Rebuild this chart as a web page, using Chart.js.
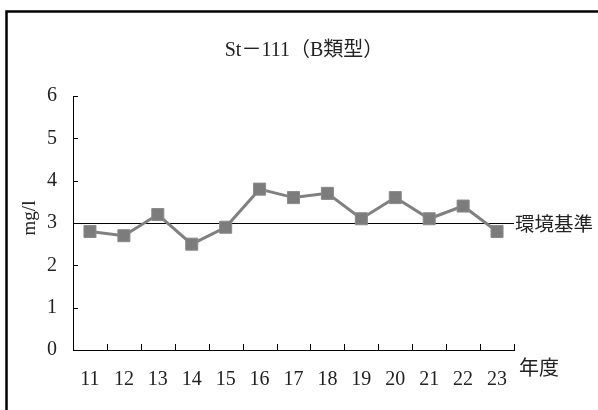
<!DOCTYPE html>
<html>
<head>
<meta charset="utf-8">
<script src="https://cdn.jsdelivr.net/npm/chart.js@4"></script>
<style>
  body { margin: 0; background: #fff; }
  #wrap { width: 598px; height: 410px; }
</style>
</head>
<body>
<div id="wrap"><canvas id="myChart" width="598" height="410"></canvas></div>
<script>
const years = ["11", "12", "13", "14", "15", "16", "17", "18", "19", "20", "21", "22", "23"];
const values = [2.8, 2.7, 3.2, 2.5, 2.9, 3.8, 3.6, 3.7, 3.1, 3.6, 3.1, 3.4, 2.8];
const standard = 3;
const yTicks = [0, 1, 2, 3, 4, 5, 6];

const serif = '"Liberation Serif", "Noto Sans CJK JP", serif';
const cjk = '"Noto Sans CJK JP", sans-serif';

// frame, title, standard line and inner tick marks
const extras = {
  id: "extras",
  beforeDatasetsDraw(chart) {
    const ctx = chart.ctx;
    const { left, right } = chart.chartArea;
    const y = chart.scales.y.getPixelForValue(standard);
    ctx.save();
    ctx.strokeStyle = "#000";
    ctx.lineWidth = 1;
    ctx.beginPath();
    ctx.moveTo(left, Math.round(y) + 0.5);
    ctx.lineTo(right, Math.round(y) + 0.5);
    ctx.stroke();
    ctx.restore();
  },
  afterDraw(chart) {
    const ctx = chart.ctx;
    const area = chart.chartArea;
    const xs = chart.scales.x;
    const ys = chart.scales.y;
    ctx.save();
    // outer frame
    ctx.strokeStyle = "#000";
    ctx.lineWidth = 2.5;
    ctx.strokeRect(6.5, 11.5, 640, 440);

    // ticks pointing inward
    ctx.lineWidth = 1;
    ctx.strokeStyle = "#000";
    ctx.beginPath();
    yTicks.forEach(v => {
      const py = Math.round(ys.getPixelForValue(v)) + 0.5;
      ctx.moveTo(area.left, py);
      ctx.lineTo(area.left + 5, py);
    });
    const step = xs.getPixelForValue(1) - xs.getPixelForValue(0);
    for (let i = 0; i < years.length; i++) {
      const px = Math.round(xs.getPixelForValue(i) + step / 2) + 0.5;
      ctx.moveTo(px, area.bottom);
      ctx.lineTo(px, area.bottom - 6);
    }
    ctx.stroke();

    // title
    ctx.fillStyle = "#222";
    ctx.font = "20px " + serif;
    ctx.textAlign = "center";
    ctx.textBaseline = "middle";
    ctx.fillText("St－111（B類型）", 304, 51);

    // y axis name
    ctx.save();
    ctx.translate(30, 218);
    ctx.rotate(-Math.PI / 2);
    ctx.font = "19px " + serif;
    ctx.fillText("mg/l", 0, 0);
    ctx.restore();

    // standard label
    ctx.font = "19.5px " + cjk;
    ctx.textAlign = "left";
    ctx.fillText("環境基準", area.right + 1, ys.getPixelForValue(standard) + 1);

    // x axis name
    ctx.font = "20px " + cjk;
    ctx.fillText("年度", area.right + 5, 367);
    ctx.restore();
  }
};

const config = {
  type: "line",
  data: {
    labels: years,
    datasets: [
      {
        label: "St-111",
        data: values,
        borderColor: "#808080",
        backgroundColor: "#7c7c7c",
        borderWidth: 3,
        pointStyle: "rect",
        pointRadius: 8.5,
        pointBorderWidth: 1,
        pointBorderColor: "#8a8a8a",
        tension: 0,
      },
    ],
  },
  options: {
    responsive: false,
    animation: false,
    layout: { padding: { left: 18, right: 84, top: 96, bottom: 0 } },
    plugins: {
      legend: { display: false },
      tooltip: { enabled: false },
    },
    scales: {
      x: {
        offset: true,
        grid: { display: false, drawTicks: false },
        border: { display: true, color: "#000", width: 1 },
        ticks: {
          color: "#222",
          font: { family: serif, size: 20 },
          padding: 18,
          maxRotation: 0,
          autoSkip: false,
        },
        afterFit: s => { s.height = 60; },
      },
      y: {
        min: 0,
        max: 6,
        grid: { display: false, drawTicks: false },
        border: { display: true, color: "#000", width: 1 },
        ticks: {
          stepSize: 1,
          color: "#222",
          font: { family: serif, size: 20 },
          padding: 16,
        },
        afterFit: s => { s.width = 55; },
      },
    },
  },
  plugins: [extras],
};

const myChart = new Chart(document.getElementById("myChart"), config);
</script>
</body>
</html>
